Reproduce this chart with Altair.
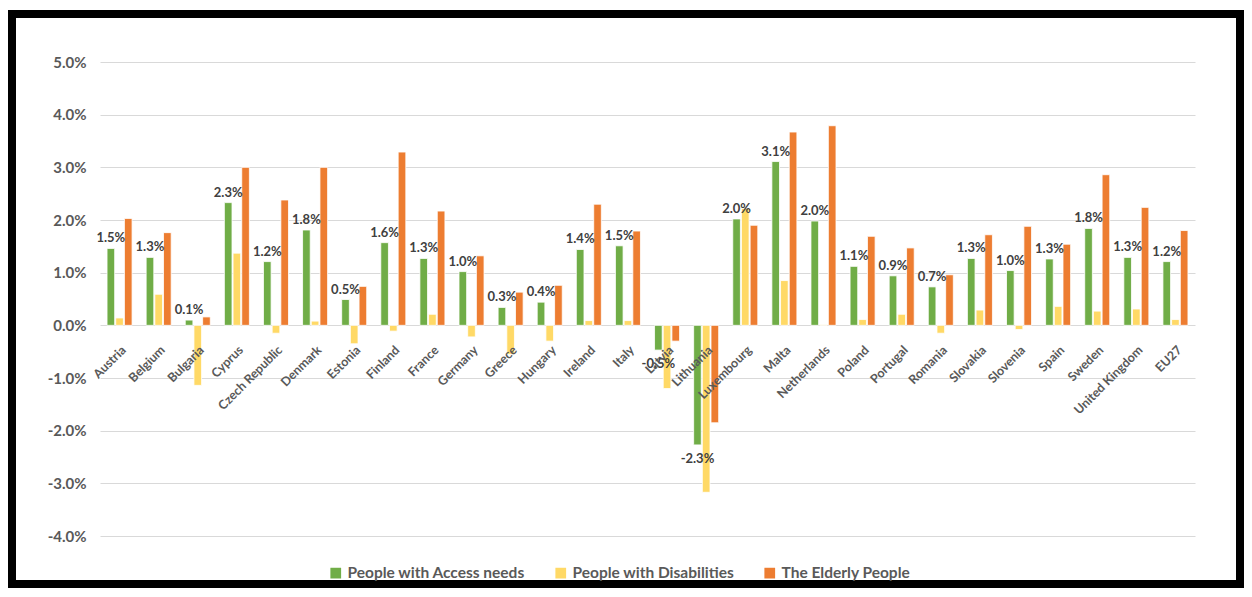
import altair as alt
import pandas as pd

countries = ["Austria", "Belgium", "Bulgaria", "Cyprus", "Czech Republic", "Denmark", "Estonia",
             "Finland", "France", "Germany", "Greece", "Hungary", "Ireland", "Italy", "Latvia",
             "Lithuania", "Luxembourg", "Malta", "Netherlands", "Poland", "Portugal", "Romania",
             "Slovakia", "Slovenia", "Spain", "Sweden", "United Kingdom", "EU27"]

access_needs = [1.46, 1.29, 0.10, 2.33, 1.21, 1.81, 0.49, 1.57, 1.27, 1.02, 0.34, 0.44, 1.44, 1.51,
                -0.47, -2.27, 2.02, 3.11, 1.98, 1.12, 0.94, 0.73, 1.27, 1.04, 1.26, 1.84, 1.29, 1.21]
disabilities = [0.14, 0.59, -1.14, 1.37, -0.15, 0.08, -0.35, -0.11, 0.21, -0.22, -0.55, -0.30, 0.09, 0.09,
                -1.20, -3.17, 2.22, 0.85, 0.01, 0.11, 0.21, -0.15, 0.29, -0.08, 0.36, 0.27, 0.31, 0.11]
elderly = [2.03, 1.76, 0.16, 3.00, 2.38, 3.00, 0.74, 3.29, 2.17, 1.32, 0.63, 0.76, 2.30, 1.79,
           -0.30, -1.85, 1.90, 3.67, 3.79, 1.69, 1.47, 0.96, 1.72, 1.88, 1.54, 2.86, 2.24, 1.80]

series_names = ["People with Access needs", "People with Disabilities", "The Elderly People"]
series_colors = ["#70AD47", "#FFD966", "#ED7D31"]
y_ticks = [-0.04, -0.03, -0.02, -0.01, 0.0, 0.01, 0.02, 0.03, 0.04, 0.05]

rows = []
for i, c in enumerate(countries):
    for s, vals in zip(series_names, [access_needs, disabilities, elderly]):
        rows.append({"country": c, "series": s, "value": vals[i] / 100})
df = pd.DataFrame(rows)

W, H = 1095, 474
FONT = "Lato"
GRAY = "#595959"

x_enc = alt.X("country:N", sort=countries,
              scale=alt.Scale(paddingInner=0.36, paddingOuter=0.18),
              axis=alt.Axis(title=None, labelAngle=-45, offset=-H * 4 / 9, domain=False, ticks=False,
                            labelFont=FONT, labelFontSize=12.5, labelFontWeight="bold",
                            labelColor=GRAY, labelPadding=18, zindex=2, labelOverlap=False))
xoff_enc = alt.XOffset("series:N", sort=series_names,
                       scale=alt.Scale(domain=series_names, paddingInner=0.12))
y_enc = alt.Y("value:Q", scale=alt.Scale(domain=[-0.04, 0.05], nice=False, zero=False),
              axis=alt.Axis(title=None, format=".1%", values=y_ticks, grid=True, gridColor="#d9d9d9",
                            gridWidth=1, domain=False, ticks=False, labelFont=FONT, labelFontSize=15,
                            labelFontWeight="bold", labelColor=GRAY, labelPadding=14, zindex=0,
                            labelExpr="replace(format(datum.value, '.1%'), '\u2212', '-')"))

base = alt.Chart(df).transform_calculate(
    label="replace(format(datum.value, '.1%'), '\u2212', '-')"
)

bars = base.mark_bar(stroke="white", strokeWidth=0.8).encode(
    x=x_enc,
    xOffset=xoff_enc,
    y=y_enc,
    color=alt.Color("series:N",
                    scale=alt.Scale(domain=series_names, range=series_colors),
                    legend=alt.Legend(title=None, orient="none", legendX=228, legendY=503,
                                      direction="horizontal", symbolType="square", symbolSize=115,
                                      symbolStrokeWidth=0, labelFont=FONT, labelFontSize=15.5,
                                      labelFontWeight="bold", labelColor=GRAY, columnPadding=27,
                                      labelLimit=0, padding=0)),
)

text_common = dict(fontWeight="bold", fontSize=13, color="#404040", font=FONT)

labels_pos = base.transform_filter(
    (alt.datum.series == series_names[0]) & (alt.datum.value >= 0)
).mark_text(baseline="bottom", dy=-3, **text_common).encode(
    x=alt.X("country:N", sort=countries), xOffset=xoff_enc, y=alt.Y("value:Q"),
    text=alt.Text("label:N"))

labels_neg = base.transform_filter(
    (alt.datum.series == series_names[0]) & (alt.datum.value < 0)
).mark_text(baseline="top", dy=8, **text_common).encode(
    x=alt.X("country:N", sort=countries), xOffset=xoff_enc, y=alt.Y("value:Q"),
    text=alt.Text("label:N"))

frame = alt.Chart(pd.DataFrame({"k": [0]})).mark_rect(
    fillOpacity=0, stroke="black", strokeWidth=8
).encode(x=alt.value(-88), x2=alt.value(1140), y=alt.value(-48), y2=alt.value(522))

chart = alt.layer(bars, labels_pos, labels_neg, frame).properties(
    width=W, height=H,
    padding={"left": 92, "top": 54, "right": 49, "bottom": 52},
    autosize=alt.AutoSizeParams(type="none"),
    background="white",
).configure_view(strokeWidth=0)

chart.save("out.html", embed_options={"renderer": "svg", "actions": False})
